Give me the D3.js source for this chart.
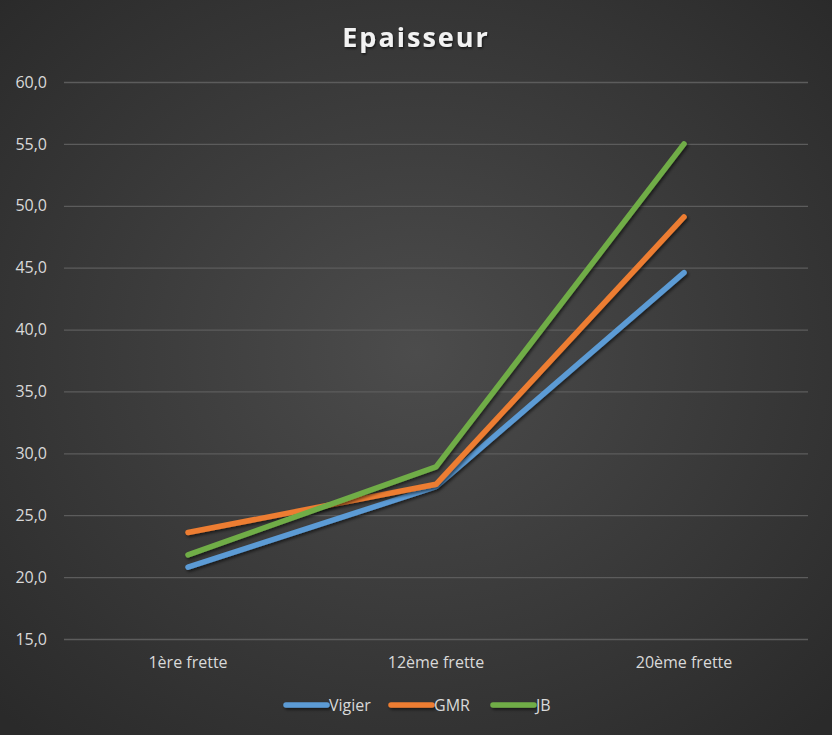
<!DOCTYPE html>
<html><head><meta charset="utf-8">
<script src="https://cdn.jsdelivr.net/npm/d3@7"></script>
<style>html,body{margin:0;padding:0;background:#333;}svg{display:block;}</style>
</head><body>
<script>
const categories = ["1ère frette", "12ème frette", "20ème frette"];
const seriesNames = ["Vigier", "GMR", "JB"];
const vigier = [20.8, 27.3, 44.6];
const gmr = [23.6, 27.5, 49.1];
const jb = [21.8, 28.9, 55.0];
const yTicks = [15, 20, 25, 30, 35, 40, 45, 50, 55, 60];
const colors = ["#5b9bd5", "#ed7d31", "#70ad47"];
const title = "Epaisseur";

(function () {
const W = 832, H = 735;
const series = [vigier, gmr, jb].map((v, i) => ({name: seriesNames[i], values: v, color: colors[i]}));

const svg = d3.select("body").append("svg").attr("width", W).attr("height", H);
const defs = svg.append("defs");
const grad = defs.append("radialGradient").attr("id", "bg").attr("cx", "50%").attr("cy", "48%").attr("r", "70%");
grad.append("stop").attr("offset", "0%").attr("stop-color", "#4c4c4c");
grad.append("stop").attr("offset", "100%").attr("stop-color", "#2a2a2a");
const f = defs.append("filter").attr("id", "sh").attr("filterUnits", "userSpaceOnUse")
  .attr("x", -W).attr("y", -H).attr("width", 3 * W).attr("height", 3 * H);
f.append("feDropShadow").attr("dx", 1.5).attr("dy", 2).attr("stdDeviation", 1.8).attr("flood-color", "#000").attr("flood-opacity", 0.55);
const tf = defs.append("filter").attr("id", "tsh");
tf.append("feDropShadow").attr("dx", 1).attr("dy", 1.5).attr("stdDeviation", 1.2).attr("flood-color", "#000").attr("flood-opacity", 0.6);

svg.append("rect").attr("width", W).attr("height", H).attr("fill", "url(#bg)");

const mLeft = 64, mRight = 808, mTop = 82, mBottom = 639;
const x = d3.scaleBand().domain(categories).range([mLeft, mRight]);
const y = d3.scaleLinear().domain([15, 60]).range([mBottom, mTop]);

const font = "'Open Sans', 'DejaVu Sans', sans-serif";

const yAxis = d3.axisLeft(y).tickValues(yTicks).tickSize(-(mRight - mLeft)).tickPadding(12)
  .tickFormat(d => d3.format(".1f")(d).replace(".", ","));
const gy = svg.append("g").attr("transform", `translate(${mLeft},0)`).call(yAxis);
gy.select(".domain").remove();
gy.selectAll("line").attr("stroke", "#5c5c5c").attr("stroke-width", 1.3);
gy.selectAll("text").attr("fill", "#d9d9d9").style("font-family", font).style("font-size", "16px").attr("x", -17).attr("text-anchor", "end");

const xAxis = d3.axisBottom(x).tickSize(0).tickPadding(18);
const gx = svg.append("g").attr("transform", `translate(0,${mBottom})`).call(xAxis);
gx.select(".domain").remove();
gx.selectAll("text").attr("fill", "#d9d9d9").style("font-family", font).style("font-size", "16px");

const line = d3.line().x((d, i) => x(categories[i]) + x.bandwidth() / 2).y(d => y(d));
svg.append("g").selectAll("path").data(series).join("path")
  .attr("d", d => line(d.values))
  .attr("fill", "none").attr("stroke", d => d.color).attr("stroke-width", 5.5)
  .attr("stroke-linecap", "round").attr("stroke-linejoin", "round")
  .attr("filter", "url(#sh)");

svg.append("text").attr("x", W / 2).attr("y", 47).attr("text-anchor", "middle")
  .attr("fill", "#f2f2f2").style("font-family", font).style("font-size", "27px").style("font-weight", "bold")
  .style("letter-spacing", "2px").attr("filter", "url(#tsh)").text(title);

const legendX = [284, 389, 491];
const lg = svg.append("g");
series.forEach((s, i) => {
  const g = lg.append("g").attr("transform", `translate(${legendX[i]},705)`);
  g.append("path").attr("d", "M2,0L43,0")
    .attr("stroke", s.color).attr("stroke-width", 5.5).attr("stroke-linecap", "round").attr("fill", "none").attr("filter", "url(#sh)");
  g.append("text").attr("x", 45).attr("y", 6).attr("fill", "#d9d9d9")
    .style("font-family", font).style("font-size", "16px").text(s.name);
});
})();
</script>
</body></html>
